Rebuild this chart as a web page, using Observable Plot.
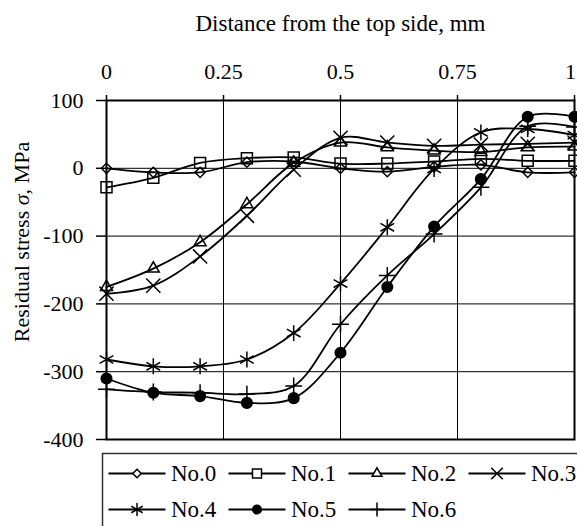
<!DOCTYPE html>
<html>
<head>
<meta charset="utf-8">
<script src="https://cdn.jsdelivr.net/npm/d3@7"></script>
<script src="https://cdn.jsdelivr.net/npm/@observablehq/plot@0.6"></script>
<style>
  html, body { margin: 0; padding: 0; background: #fff; }
  #chart svg, #legend svg { display: block; }
  svg, svg text { font-family: "Liberation Serif", "Times New Roman", serif !important; }
</style>
</head>
<body>
<div id="chart"></div>
<div id="legend"></div>
<script>
// ---- data ----
const depth = [0, 0.1, 0.2, 0.3, 0.4, 0.5, 0.6, 0.7, 0.8, 0.9, 1.0];
const seriesNames = ["No.0", "No.1", "No.2", "No.3", "No.4", "No.5", "No.6"];
const no0 = [0, -6, -6, 9, 10, 0, -5, 2, 5, -6, -6];
const no1 = [-28, -14, 8, 15, 16, 7, 7, 10, 14, 11, 11];
const no2 = [-175, -148, -109, -53, 8, 38, 31, 26, 24, 31, 32];
const no3 = [-185, -173, -130, -70, -2, 45, 38, 33, 35, 36, 38];
const no4 = [-282, -292, -292, -282, -243, -170, -87, -1, 53, 58, 49];
const no5 = [-310, -331, -336, -346, -339, -272, -175, -86, -16, 76, 76];
const no6 = [-326, -330, -331, -333, -321, -230, -158, -97, -28, 62, 61];
const xTicks = [0, 0.25, 0.5, 0.75, 1];
const yTicks = [100, 0, -100, -200, -300, -400];
const xTitle = "Distance from the top side, mm";
const yTitle = "Residual stress σ, MPa";

// ---- styles (kept apart from data) ----
const seriesValues = [no0, no1, no2, no3, no4, no5, no6];
const symbols = ["diamond2", "square2", "triangle2", "times", "asterisk", "circle", "plus"];
const radii = [4.6, 7, 5.7, 6.5, 7.5, 5.3, 5.5];
const filled = [false, false, false, false, false, true, false];

const rows = [];
seriesNames.forEach((name, i) => {
  depth.forEach((x, j) => rows.push({series: name, x, y: seriesValues[i][j]}));
});

const font = "Liberation Serif, Times New Roman, serif";

const marks = [
  Plot.ruleX(xTicks.slice(1, -1), {stroke: "#000", strokeWidth: 1}),
  Plot.ruleY(yTicks.slice(1, -1), {stroke: "#000", strokeWidth: 1}),
  Plot.axisX(xTicks, {anchor: "top", tickSize: 6, tickPadding: 16, label: null,
    tickFormat: d => String(d), fontSize: 22, strokeWidth: 1.5}),
  Plot.axisY(yTicks, {anchor: "left", tickSize: 10, tickPadding: 13, label: null,
    tickFormat: d => String(d), fontSize: 22, strokeWidth: 1.5}),
];
seriesNames.forEach((name, i) => {
  const d = rows.filter(r => r.series === name);
  marks.push(Plot.line(d, {x: "x", y: "y", curve: "catmull-rom", stroke: "#000", strokeWidth: 1.8}));
  marks.push(Plot.dot(d, {x: "x", y: "y", symbol: () => symbols[i], r: radii[i],
    stroke: "#000", strokeWidth: 1.5, fill: filled[i] ? "#000" : "none"}));
});
marks.push(Plot.frame({stroke: "#000", strokeWidth: 2}));
marks.push(Plot.text([xTitle], {text: d => d, frameAnchor: "top", dy: -70, lineAnchor: "bottom", fontSize: 23, fontFamily: font}));
marks.push(Plot.text([yTitle], {text: d => d, frameAnchor: "left", textAnchor: "middle", rotate: -90, dx: -85, dy: -28, fontSize: 22, fontFamily: font}));

const chart = Plot.plot({
  width: 577, height: 450,
  marginLeft: 106, marginRight: 3, marginTop: 100, marginBottom: 11,
  x: {domain: [0, 1], axis: null},
  y: {domain: [-400, 100], axis: null},
  symbol: {type: "identity"},
  style: {fontFamily: font, fontSize: "22px", color: "#000", background: "#fff", overflow: "visible"},
  marks
});
document.getElementById("chart").appendChild(chart);

// italic sigma in the y title; keep the last top tick label inside the page
chart.querySelectorAll("text").forEach(t => {
  if (t.textContent === yTitle) {
    const ns = "http://www.w3.org/2000/svg";
    const parts = yTitle.split("σ");
    t.textContent = "";
    const a = document.createElementNS(ns, "tspan"); a.textContent = parts[0];
    const b = document.createElementNS(ns, "tspan"); b.textContent = "σ"; b.setAttribute("font-style", "italic");
    const c = document.createElementNS(ns, "tspan"); c.textContent = parts[1];
    t.append(a, b, c);
  } else if (t.textContent === String(xTicks[xTicks.length - 1])) {
    t.setAttribute("dx", "-4");
  }
});

// ---- legend ----
const legendRows = seriesNames.map((name, i) => ({name, i, col: i % 4, row: Math.floor(i / 4)}));
const lmarks = [Plot.frame({stroke: "#333", strokeWidth: 1.5})];
legendRows.forEach(e => {
  lmarks.push(Plot.link([e], {x1: d => d.col, x2: d => d.col + 0.475, y1: "row", y2: "row", stroke: "#000", strokeWidth: 1.8}));
  lmarks.push(Plot.dot([e], {x: d => d.col + 0.2375, y: "row", symbol: () => symbols[e.i], r: radii[e.i] * 0.82,
    stroke: "#000", strokeWidth: 1.5, fill: filled[e.i] ? "#000" : "#fff"}));
  lmarks.push(Plot.text([e], {x: d => d.col + 0.52, y: "row", text: "name", textAnchor: "start", fontSize: 23, fontFamily: font}));
});
const legend = Plot.plot({
  width: 577, height: 76,
  marginLeft: 102, marginTop: 3, marginRight: -20, marginBottom: -20,
  x: {domain: [0, 4], range: [108, 588], axis: null},
  y: {domain: [0, 1], range: [23, 59], axis: null},
  symbol: {type: "identity"},
  style: {fontFamily: font, fontSize: "23px", color: "#000", background: "#fff"},
  marks: lmarks
});
document.getElementById("legend").appendChild(legend);
</script>
</body>
</html>
